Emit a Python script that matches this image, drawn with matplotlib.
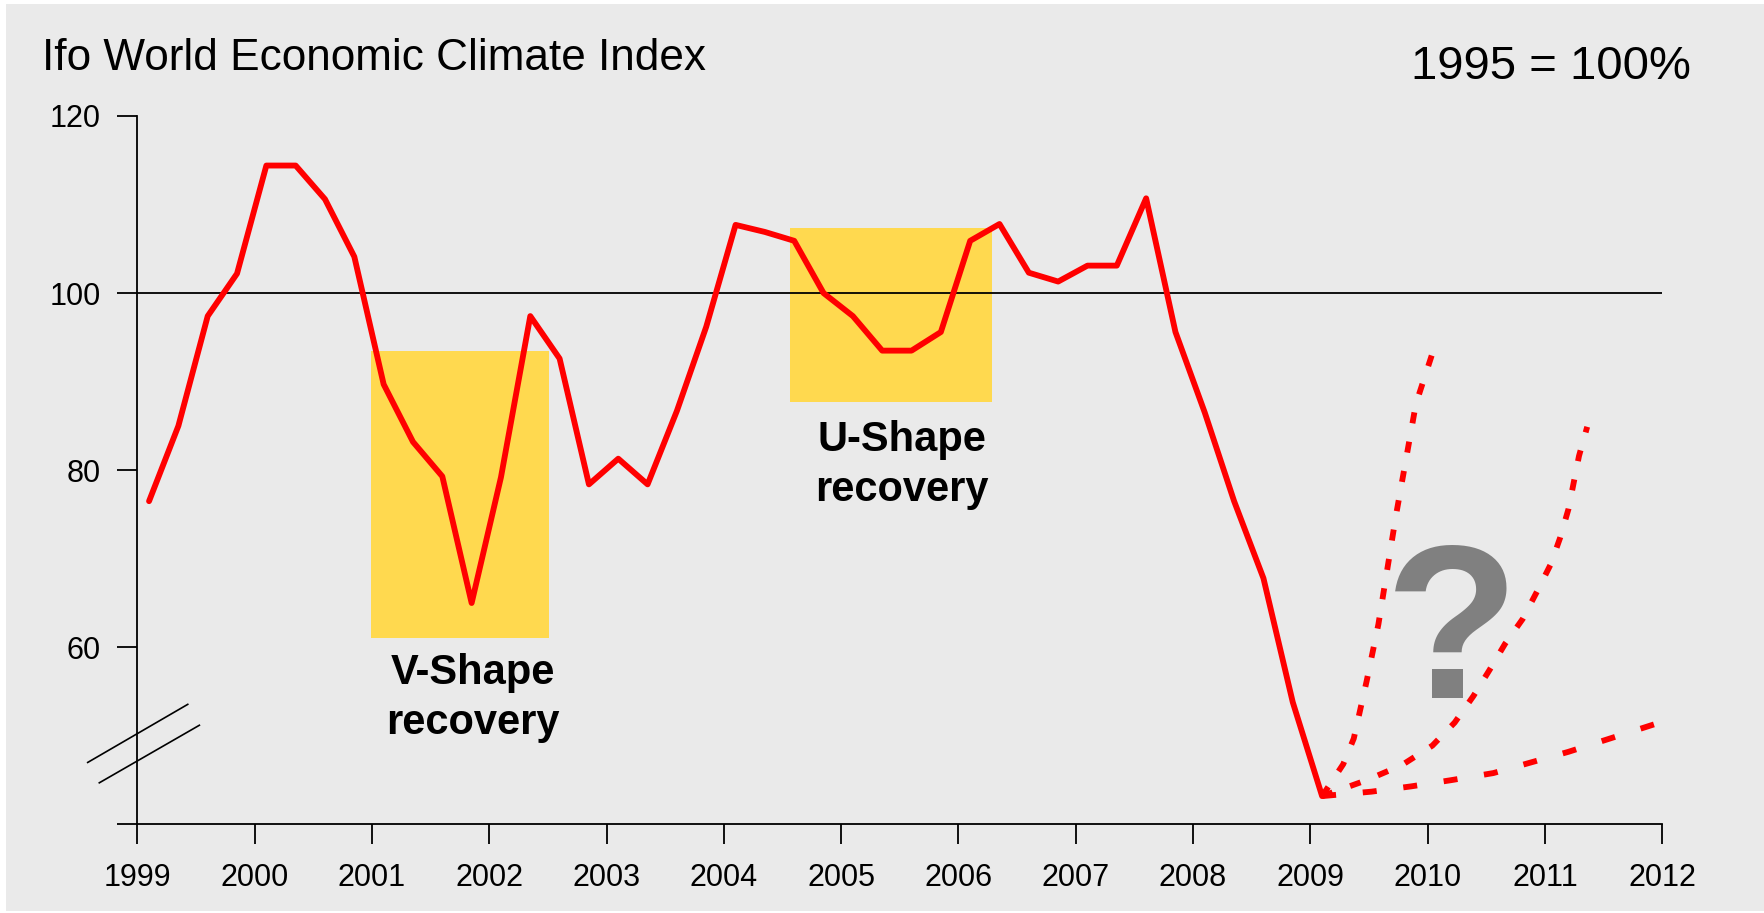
import matplotlib
matplotlib.use("Agg")
import matplotlib.pyplot as plt
from matplotlib.patches import Rectangle

plt.rcParams['font.family'] = ['Liberation Sans', 'DejaVu Sans']

# Ifo World Economic Climate, quarterly, 1995 = 100
quarters = ['1999Q1', '1999Q2', '1999Q3', '1999Q4',
            '2000Q1', '2000Q2', '2000Q3', '2000Q4',
            '2001Q1', '2001Q2', '2001Q3', '2001Q4',
            '2002Q1', '2002Q2', '2002Q3', '2002Q4',
            '2003Q1', '2003Q2', '2003Q3', '2003Q4',
            '2004Q1', '2004Q2', '2004Q3', '2004Q4',
            '2005Q1', '2005Q2', '2005Q3', '2005Q4',
            '2006Q1', '2006Q2', '2006Q3', '2006Q4',
            '2007Q1', '2007Q2', '2007Q3', '2007Q4',
            '2008Q1', '2008Q2', '2008Q3', '2008Q4',
            '2009Q1']
climate = [76.5, 85.0, 97.4, 102.2,
           114.4, 114.4, 110.6, 104.1,
           89.7, 83.2, 79.3, 65.0,
           79.2, 97.4, 92.6, 78.4,
           81.3, 78.4, 86.7, 96.2,
           107.7, 106.9, 105.9, 100.0,
           97.4, 93.5, 93.5, 95.6,
           105.9, 107.8, 102.3, 101.3,
           103.1, 103.1, 110.7, 95.6,
           86.5, 76.5, 67.8, 53.8,
           43.2]

# possible recovery paths after 2009Q1
fast_x = [2009.1, 2009.28, 2009.37, 2009.48, 2009.58, 2009.73, 2009.90, 2010.07]
fast_y = [43.2, 46.8, 49.7, 56.2, 62.6, 74.9, 87.5, 94.4]
mid_x = [2009.1, 2009.48, 2009.78, 2010.04, 2010.23, 2010.39, 2010.53, 2010.66,
         2010.81, 2010.94, 2011.05, 2011.13, 2011.20, 2011.29, 2011.36]
mid_y = [43.2, 45.0, 46.7, 48.9, 51.5, 54.5, 57.5, 60.4,
         63.2, 66.5, 69.4, 72.4, 75.6, 81.6, 84.9]
slow_x = [2009.1, 2009.52, 2009.86, 2010.2, 2010.56, 2010.88, 2011.2, 2011.53, 2011.93]
slow_y = [43.2, 43.7, 44.3, 45.0, 45.8, 47.0, 48.2, 49.6, 51.3]

# highlighted recovery periods: (x0, x1, y0, y1)
v_box = (2000.99, 2002.51, 61.1, 93.5)
u_box = (2004.56, 2006.29, 87.7, 107.3)

year_ticks = list(range(1999, 2013))
value_ticks = [40, 60, 80, 100, 120]
value_labels = ['', '60', '80', '100', '120']


def quarter_pos(q):
    year, n = q.split('Q')
    return int(year) + 0.1 + (int(n) - 1) * 0.25


W, H = 1765, 913
fig = plt.figure(figsize=(W / 100, H / 100), dpi=100, facecolor='white')
fig.patches.append(Rectangle((6 / W, 2 / H), 1 - 6 / W, 1 - 6 / H,
                             transform=fig.transFigure, facecolor='#EAEAEA',
                             edgecolor='none', zorder=-1))

ax = fig.add_axes([0.0778, 0.0970, 0.8640, 0.7760])
ax.set_facecolor('none')
ax.set_xlim(1999, 2012)
ax.set_ylim(40, 120)

for x0, x1, y0, y1 in (v_box, u_box):
    ax.add_patch(Rectangle((x0, y0), x1 - x0, y1 - y0, facecolor='#FFD94F',
                           edgecolor='none', zorder=1))

ax.axhline(100, color='black', lw=1.3, zorder=2)

ax.text(2010.21, 54.3, '?', fontsize=158, fontweight='bold', color='#808080',
        ha='center', va='baseline', zorder=2)

xs = [quarter_pos(q) for q in quarters]
ax.plot(xs, climate, color='#FF0000', lw=4.2, solid_joinstyle='round',
        solid_capstyle='round', zorder=4)
ax.plot(fast_x, fast_y, color='#FF0000', lw=4.2, ls=(0, (1.9, 3.2)), zorder=3)
ax.plot(mid_x, mid_y, color='#FF0000', lw=4.2, ls=(0, (1.9, 3.2)), zorder=3)
ax.plot(slow_x, slow_y, color='#FF0000', lw=4.2, ls=(0, (2.4, 4.6)), zorder=3)

ax.text(2001.86, 54.3, 'V-Shape\nrecovery',
        fontsize=30, fontweight='bold', ha='center', va='center', linespacing=1.32)
ax.text(2005.52, 80.6, 'U-Shape\nrecovery',
        fontsize=30, fontweight='bold', ha='center', va='center', linespacing=1.32)

# axes styling
for side in ('top', 'right'):
    ax.spines[side].set_visible(False)
for side in ('left', 'bottom'):
    ax.spines[side].set_linewidth(1.3)
ax.set_xticks(year_ticks)
ax.set_xticklabels([str(y) for y in year_ticks])
ax.set_yticks(value_ticks)
ax.set_yticklabels(value_labels)
ax.tick_params(axis='both', length=14.4, width=1.3, labelsize=22, direction='out')
ax.tick_params(axis='x', pad=13.5)
ax.tick_params(axis='y', pad=12)

# axis break marks on the value axis
for (x0, y0), (x1, y1) in [((1998.577, 47.0), (1999.43, 53.56)),
                           ((1998.676, 44.7), (1999.529, 51.2))]:
    ax.plot([x0, x1], [y0, y1], color='black', lw=1.2, clip_on=False, zorder=5)

fig.text(41.6 / W, 1 - 70 / H, 'Ifo World Economic Climate Index',
         fontsize=31.8, ha='left', va='baseline')
fig.text(1691 / W, 1 - 79 / H, '1995 = 100%', fontsize=34, ha='right', va='baseline')

fig.savefig('out.png', dpi=100, facecolor=fig.get_facecolor())
